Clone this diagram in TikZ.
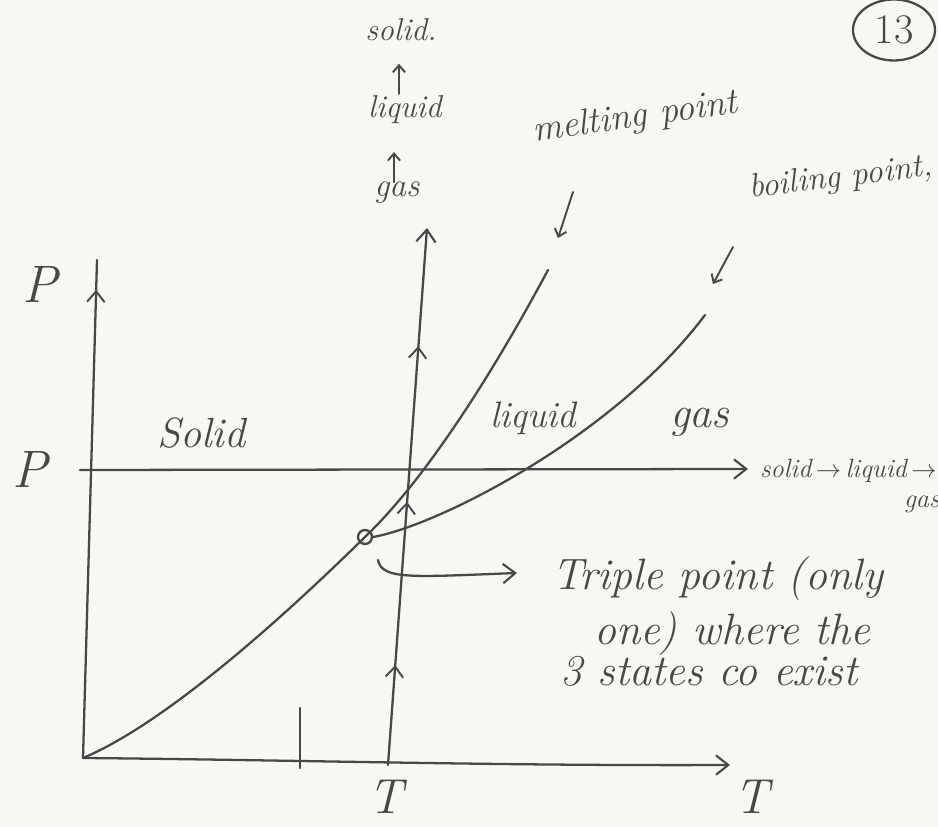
\documentclass[tikz,border=0pt]{standalone}
\usepackage{fontspec}
\usetikzlibrary{arrows.meta,decorations.markings,shapes.geometric}
\definecolor{ink}{RGB}{72,72,72}
\definecolor{paper}{RGB}{247,247,244}
\begin{document}
\begin{tikzpicture}[x=0.02cm,y=-0.02cm,
  pen/.style={draw=ink,line width=1.3pt,line cap=round,line join=round},
  tipend/.style={-{Straight Barb[length=7pt,width=11pt,line width=1.2pt]}},
  smalltip/.style={-{Straight Barb[length=4pt,width=7pt,line width=1.1pt]}},
  hand/.style={text=ink,inner sep=1pt,font=\itshape\fontsize{#1}{#1}\selectfont},
  upr/.style={text=ink,inner sep=1pt,font=\fontsize{#1}{#1}\selectfont},
  midtips/.style={postaction={decorate},decoration={markings,
    mark=at position 0.186 with {\arrow{Straight Barb[length=6pt,width=10pt,line width=1.1pt]}},
    mark=at position 0.49 with {\arrow{Straight Barb[length=6pt,width=10pt,line width=1.1pt]}},
    mark=at position 0.78 with {\arrow{Straight Barb[length=6pt,width=10pt,line width=1.1pt]}}}},
  ptip/.style={postaction={decorate},decoration={markings,
    mark=at position 0.94 with {\arrow{Straight Barb[length=6pt,width=10pt,line width=1.1pt]}}}},
]
\useasboundingbox (0,0) rectangle (938,827);
\clip (0,0) rectangle (938,827);
\fill[paper] (0,0) rectangle (938,827);

% axes
\coordinate (O) at (83,758);
\coordinate (Ptop) at (97,260);
\coordinate (Tend) at (730,765);
\draw[pen,ptip] (O) -- (Ptop);
\draw[pen,tipend] (O) .. controls (300,760) and (500,766) .. (Tend);

% pressure line
\coordinate (Pl) at (80,470);
\coordinate (Pr) at (748,469);
\draw[pen,tipend] (Pl) -- (Pr);

% tick on T axis
\coordinate (tk1) at (300,708);
\coordinate (tk2) at (300,768);
\draw[pen] (tk1) -- (tk2);

% isotherm
\coordinate (Vb) at (388,765);
\coordinate (Vt) at (427,228);
\draw[pen,tipend,midtips] (Vb) -- (Vt);

% triple point
\node[circle,draw=ink,line width=1.3pt,minimum size=0.28cm,inner sep=0pt] (TP) at (365,537) {};
\coordinate (M) at (548,270);
\coordinate (B) at (705,315);
\draw[pen] (O) .. controls (150,730) and (250,650) .. (TP.center)
               .. controls (430,475) and (500,360) .. (M);
\draw[pen] (TP.east) .. controls (440,525) and (615,435) .. (B);

% curved pointer
\coordinate (ca) at (378,560);
\coordinate (cb) at (517,573);
\draw[pen,tipend] (ca) .. controls (382,580) and (412,577) .. (cb);

% triple point text
\node[hand=25,anchor=base west] (tr1) at (550,590) {Triple point (only};
\node[hand=25,anchor=base west] (tr2) at (592,645) {one) where the};
\node[hand=25,anchor=base west] (tr3) at (558,686) {3 states co exist};

% region labels
\node[hand=24,anchor=base west] (solidL) at (155,448) {Solid};
\node[hand=21,anchor=base west] (liquidL) at (488,428) {liquid};
\node[hand=25,anchor=base west] (gasL) at (668,428) {gas};

% axis labels
\node[hand=30] (Plab) at (40,285) {P};
\node[hand=30] (Pval) at (30,470) {P};
\node[hand=28] (Tval) at (386,797) {T};
\node[hand=28] (Tlab) at (752,797) {T};

% right side sequence
\node[hand=15,anchor=base west] (seq) at (758,478) {solid\,$\to$\,liquid\,$\to$};
\node[hand=15,anchor=base west] (seqg) at (902,508) {gas};

% top stack
\node[hand=18] (solidT) at (401,30) {solid.};
\node[hand=18] (liquidT) at (405,110) {liquid};
\node[hand=19] (gasT) at (397,193) {gas};
\draw[pen,smalltip,line width=1.1pt] (liquidT.north) ++(-6,0) coordinate (la) -- ++(0,-30) coordinate (lb);
\draw[pen,smalltip,line width=1.1pt] (gasT.north) ++(-3,2) coordinate (ga) -- ++(0,-30) coordinate (gb);

% curve names
\node[hand=21,anchor=base west,rotate=8] (melt) at (532,142) {melting point};
\node[hand=19,anchor=base west,rotate=7] (boil) at (748,198) {boiling point,};
\coordinate (ma1) at (573,192);
\coordinate (ma2) at (558,238);
\draw[pen,smalltip,line width=1.1pt] (ma1) -- (ma2);
\coordinate (ba1) at (733,247);
\coordinate (ba2) at (713,284);
\draw[pen,smalltip,line width=1.1pt] (ba1) -- (ba2);

% page number
\node[ellipse,draw=ink,line width=1.3pt,minimum width=1.64cm,minimum height=1.22cm,inner sep=0pt,upr=24] (pg) at (894,30) {13};
\end{tikzpicture}
\end{document}
